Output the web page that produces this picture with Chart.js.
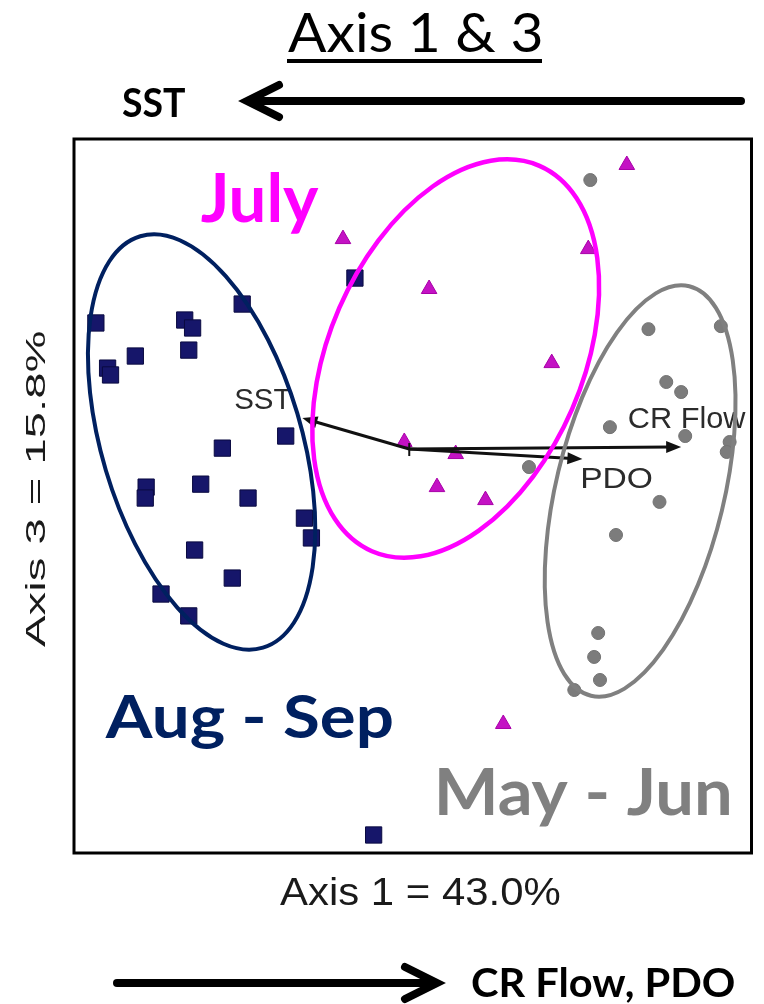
<!DOCTYPE html>
<html>
<head>
<meta charset="utf-8">
<title>Axis 1 &amp; 3</title>
<script src="https://cdn.jsdelivr.net/npm/chart.js@4.4.1/dist/chart.umd.min.js"></script>
<style>
  html, body { margin: 0; padding: 0; background: #ffffff; }
  #wrap { position: relative; width: 764px; height: 1004px; }
</style>
</head>
<body>
<div id="wrap"><canvas id="ord"></canvas></div>
<script>
// Sample scores on ordination axes 1 and 3, by sampling period
const augSepX = [-1.390, -1.338, -1.325, -1.215, -0.996, -0.961, -0.978, -0.741, -0.241, -0.548, -0.829,
                 -1.167, -1.171, -0.925, -0.715, -0.465, -0.434, -0.952, -0.785, -1.101, -0.978, -0.158];
const augSepY = [ 0.553,  0.355,  0.325,  0.408,  0.566,  0.531,  0.434,  0.636,  0.750,  0.057,  0.004,
                 -0.167, -0.215, -0.154, -0.215, -0.303, -0.390, -0.443, -0.566, -0.636, -0.732, -1.693];

const julyX = [0.965, 0.794, 0.088, 0.632, -0.294, -0.022, 0.206, 0.123, 0.338, 0.417];
const julyY = [1.246, 0.877, 0.702, 0.377,  0.921,  0.031, -0.022, -0.167, -0.224, -1.206];

const mayJunX = [0.803, 1.061, 1.382, 1.140, 1.206, 0.890, 1.224, 1.421, 1.408, 0.531, 1.110, 0.917, 0.838, 0.820, 0.846, 0.732];
const mayJunY = [1.180, 0.526, 0.539, 0.294, 0.250, 0.096, 0.057, 0.031, -0.013, -0.079, -0.232, -0.377, -0.807, -0.912, -1.013, -1.057];

// Environmental vectors (biplot), from the origin
const vectorNames = ['SST', 'CR Flow', 'PDO'];
const vectorX = [-0.474, 1.206, 0.768];
const vectorY = [ 0.136, 0.009, -0.044];

// Group ellipses: centre, semi-axes (axis units) and tilt in degrees (clockwise from vertical)
const groupNames = ['Aug - Sep', 'July', 'May - Jun'];
const ellipseCX = [-0.921, 0.206, 1.024];
const ellipseCY = [ 0.031, 0.397, -0.184];
const ellipseMajor = [0.952, 0.932, 0.934];
const ellipseMinor = [0.443, 0.563, 0.373];
const ellipseTilt = [-16.6, 23.5, 13.5];

const toPts = (xs, ys) => xs.map((v, i) => ({ x: v, y: ys[i] }));

const NAVY = '#002060', MAGENTA = '#ff00ff', GREY = '#808080';

// Draw text so that its ink box starts at (x, baseline) and spans a given width
function fitText(ctx, txt, x, yb, w, font, color, rot) {
  ctx.save();
  ctx.font = font;
  ctx.fillStyle = color;
  ctx.textAlign = 'left';
  ctx.textBaseline = 'alphabetic';
  const m = ctx.measureText(txt);
  const tw = m.actualBoundingBoxLeft + m.actualBoundingBoxRight;
  ctx.translate(x, yb);
  if (rot) ctx.rotate(rot);
  ctx.scale(w / tw, 1);
  ctx.fillText(txt, m.actualBoundingBoxLeft, 0);
  ctx.restore();
}

function vectorArrow(ctx, x0, y0, x1, y1) {
  const ang = Math.atan2(y1 - y0, x1 - x0);
  const hl = 15, hw = 6;
  const c = Math.cos(ang), s = Math.sin(ang);
  ctx.beginPath();
  ctx.moveTo(x0, y0);
  ctx.lineTo(x1 - c * hl * 0.7, y1 - s * hl * 0.7);
  ctx.stroke();
  ctx.beginPath();
  ctx.moveTo(x1, y1);
  ctx.lineTo(x1 - hl * c + hw * s, y1 - hl * s - hw * c);
  ctx.lineTo(x1 - hl * c - hw * s, y1 - hl * s + hw * c);
  ctx.closePath();
  ctx.fill();
}

function openArrow(ctx, xFrom, xTip, y, dir) {
  ctx.save();
  ctx.strokeStyle = '#000';
  ctx.lineWidth = 8;
  ctx.lineCap = 'round';
  ctx.lineJoin = 'miter';
  ctx.beginPath();
  ctx.moveTo(xFrom, y);
  ctx.lineTo(xTip - dir * 4, y);
  ctx.stroke();
  ctx.beginPath();
  ctx.moveTo(xTip - dir * 32, y - 16);
  ctx.lineTo(xTip, y);
  ctx.lineTo(xTip - dir * 32, y + 16);
  ctx.stroke();
  ctx.restore();
}

const overlay = {
  id: 'ordinationOverlay',
  afterDatasetsDraw(chart) {
    const { ctx, chartArea: a, scales: { x, y } } = chart;
    const unit = x.getPixelForValue(1) - x.getPixelForValue(0);
    const ox = x.getPixelForValue(0), oy = y.getPixelForValue(0);

    // biplot vectors
    ctx.save();
    ctx.strokeStyle = '#111';
    ctx.fillStyle = '#111';
    ctx.lineWidth = 3;
    vectorNames.forEach((n, i) => {
      vectorArrow(ctx, ox, oy, x.getPixelForValue(vectorX[i]), y.getPixelForValue(vectorY[i]));
    });
    ctx.lineWidth = 2;
    ctx.beginPath();
    ctx.moveTo(ox, oy - 6);
    ctx.lineTo(ox, oy + 7);
    ctx.stroke();
    ctx.restore();

    // vector labels
    const vLab = [
      { t: 'SST', x: -0.772, y: 0.175, w: 56 },
      { t: 'CR Flow', x: 0.974, y: 0.092, w: 117 },
      { t: 'PDO', x: 0.768, y: -0.171, w: 69 }
    ];
    vLab.forEach(l => fitText(ctx, l.t, x.getPixelForValue(l.x), y.getPixelForValue(l.y), l.w,
      '30px "Liberation Sans", Arial, sans-serif', '#2b2b2b'));

    // group ellipses
    const eColors = [NAVY, MAGENTA, GREY];
    const eWidths = [4, 4.5, 4];
    groupNames.forEach((g, i) => {
      ctx.save();
      ctx.strokeStyle = eColors[i];
      ctx.lineWidth = eWidths[i];
      ctx.beginPath();
      ctx.ellipse(x.getPixelForValue(ellipseCX[i]), y.getPixelForValue(ellipseCY[i]),
        ellipseMinor[i] * unit, ellipseMajor[i] * unit, ellipseTilt[i] * Math.PI / 180, 0, Math.PI * 2);
      ctx.stroke();
      ctx.restore();
    });

    // group labels
    const gFont = s => 'bold ' + s + 'px Lato, "Open Sans", sans-serif';
    fitText(ctx, 'July', x.getPixelForValue(-0.925), y.getPixelForValue(0.996), 118, gFont(66), MAGENTA);
    fitText(ctx, 'Aug - Sep', x.getPixelForValue(-1.351), y.getPixelForValue(-1.268), 287, gFont(60), NAVY);
    fitText(ctx, 'May - Jun', x.getPixelForValue(0.132), y.getPixelForValue(-1.605), 291, gFont(65), GREY);

    // plot frame
    ctx.save();
    ctx.strokeStyle = '#000';
    ctx.lineWidth = 3;
    ctx.strokeRect(a.left, a.top, a.right - a.left, a.bottom - a.top);
    ctx.restore();
  },
  afterDraw(chart) {
    const ctx = chart.ctx;
    // title with underline
    fitText(ctx, 'Axis 1 & 3', 288, 52, 253, '54px Lato, "Open Sans", sans-serif', '#000');
    ctx.fillStyle = '#000';
    ctx.fillRect(287, 59, 255, 4);

    // gradient arrows
    fitText(ctx, 'SST', 122, 117, 63, 'bold 41px Lato, "Open Sans", sans-serif', '#000');
    openArrow(ctx, 741, 247, 101, -1);
    openArrow(ctx, 117, 437, 983, 1);
    fitText(ctx, 'CR Flow, PDO', 472, 997, 262, 'bold 40px Lato, "Open Sans", sans-serif', '#000');

    // axis titles
    fitText(ctx, 'Axis 1 = 43.0%', 280, 905, 280, '39px "Liberation Sans", Arial, sans-serif', '#1a1a1a');
    fitText(ctx, 'Axis 3 = 15.8%', 45, 647, 315, '28px "Liberation Sans", Arial, sans-serif', '#1a1a1a', -Math.PI / 2);
  }
};

new Chart(document.getElementById('ord'), {
  type: 'scatter',
  data: {
    datasets: [
      {
        label: groupNames[0],
        data: toPts(augSepX, augSepY),
        pointStyle: 'rect',
        pointRadius: 11.5,
        backgroundColor: '#16166a',
        borderColor: '#0a0a40',
        borderWidth: 1
      },
      {
        label: groupNames[1],
        data: toPts(julyX, julyY),
        pointStyle: 'triangle',
        pointRadius: 9,
        backgroundColor: '#c412c4',
        borderColor: '#a800a8',
        borderWidth: 1
      },
      {
        label: groupNames[2],
        data: toPts(mayJunX, mayJunY),
        pointStyle: 'circle',
        pointRadius: 6.5,
        backgroundColor: '#7c7c7c',
        borderColor: '#727272',
        borderWidth: 1
      }
    ]
  },
  options: {
    responsive: true,
    maintainAspectRatio: false,
    animation: false,
    devicePixelRatio: 1,
    clip: false,
    layout: { padding: { left: 74, top: 139, right: 5, bottom: 151 } },
    plugins: { legend: { display: false }, tooltip: { enabled: false } },
    scales: {
      x: { type: 'linear', display: false, min: -1.487, max: 1.518 },
      y: { type: 'linear', display: false, min: -1.772, max: 1.360 }
    }
  },
  plugins: [overlay]
});
</script>
</body>
</html>
